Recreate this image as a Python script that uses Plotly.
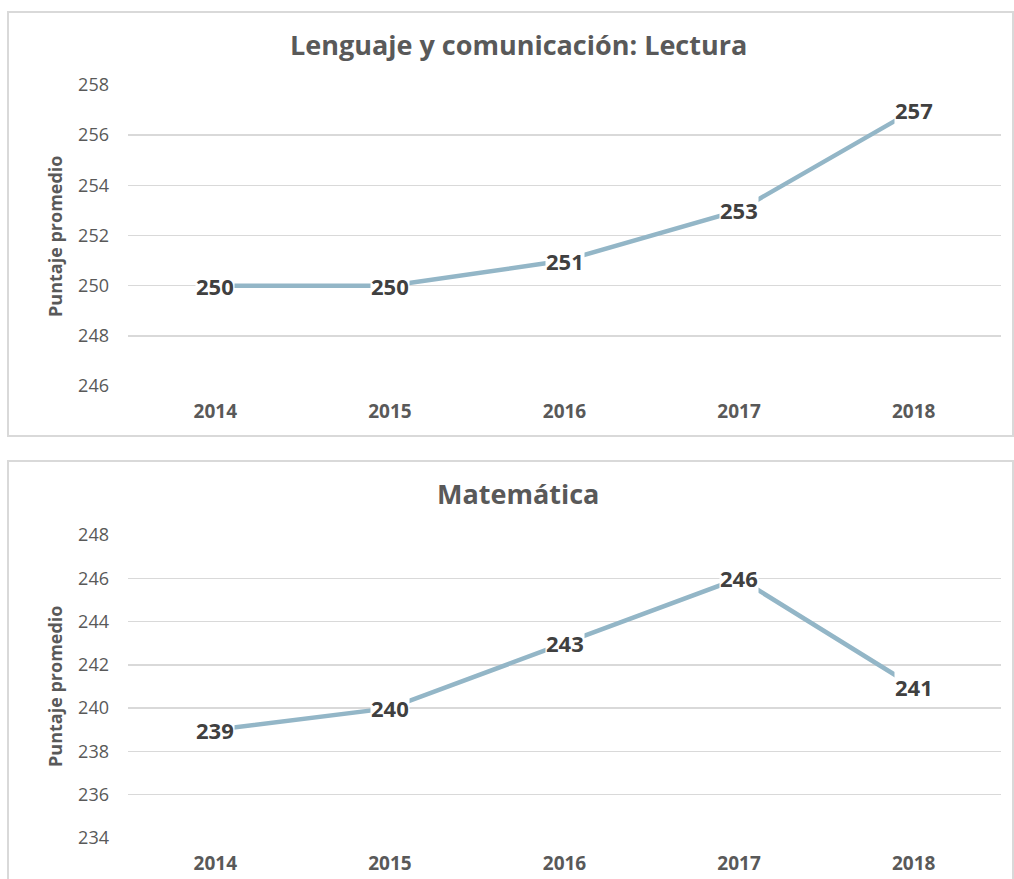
import plotly.graph_objects as go

years = ["2014", "2015", "2016", "2017", "2018"]
lectura = [250, 250, 251, 253, 257]
matematica = [239, 240, 243, 246, 241]
lectura_ticks = [246, 248, 250, 252, 254, 256, 258]
mate_ticks = [234, 236, 238, 240, 242, 244, 246, 248]

W, H = 1014, 879
def px(y):
    return 1 - y / H

LINE = "#93B6C7"
GRID = "#D9D9D9"
TXT = "#595959"
LBL = "#404040"
FONT = "Open Sans"

fig = go.Figure()
fig.add_trace(go.Scatter(x=years, y=lectura, mode="lines", line=dict(color=LINE, width=4.5),
                         xaxis="x", yaxis="y", hoverinfo="skip", showlegend=False))
fig.add_trace(go.Scatter(x=years, y=matematica, mode="lines", line=dict(color=LINE, width=4.5),
                         xaxis="x2", yaxis="y2", hoverinfo="skip", showlegend=False))

annotations = []
for xa, ya, vals in [("x", "y", lectura), ("x2", "y2", matematica)]:
    for i, v in enumerate(vals):
        annotations.append(dict(x=i, y=v, xref=xa, yref=ya, text=f"<b>{v}</b>", showarrow=False,
                                font=dict(family=FONT, size=22, color=LBL), bgcolor="white",
                                borderpad=0, xanchor="center", yanchor="middle"))

annotations += [
    dict(x=518 / W, y=px(45), xref="paper", yref="paper", text="<b>Lenguaje y comunicación: Lectura</b>",
         showarrow=False, font=dict(family=FONT, size=27, color=TXT), xanchor="center", yanchor="middle"),
    dict(x=518 / W, y=px(493), xref="paper", yref="paper", text="<b>Matemática</b>",
         showarrow=False, font=dict(family=FONT, size=27, color=TXT), xanchor="center", yanchor="middle"),
    dict(x=55 / W, y=px(236), xref="paper", yref="paper", text="<b>Puntaje promedio</b>", textangle=-90,
         showarrow=False, font=dict(family=FONT, size=18, color=TXT), xanchor="center", yanchor="middle"),
    dict(x=55 / W, y=px(686), xref="paper", yref="paper", text="<b>Puntaje promedio</b>", textangle=-90,
         showarrow=False, font=dict(family=FONT, size=18, color=TXT), xanchor="center", yanchor="middle"),
]

shapes = [
    dict(type="rect", xref="paper", yref="paper", x0=8 / W, x1=1013 / W, y0=px(436), y1=px(12),
         line=dict(color=GRID, width=2), fillcolor="rgba(0,0,0,0)", layer="below"),
    dict(type="rect", xref="paper", yref="paper", x0=8 / W, x1=1013 / W, y0=-0.05, y1=px(461),
         line=dict(color=GRID, width=2), fillcolor="rgba(0,0,0,0)", layer="below"),
]

xdom = [128 / W, 1001 / W]
xcommon = dict(type="category", range=[-0.5, 4.5], showgrid=False, zeroline=False, showline=False,
               ticks="", tickfont=dict(family=FONT, size=19, color=TXT, weight="bold"),
               ticklabelstandoff=12, fixedrange=True, automargin=False)
ycommon = dict(showgrid=True, gridcolor=GRID, gridwidth=1.5, zeroline=False, showline=False, ticks="",
               tickfont=dict(family=FONT, size=18, color=TXT), ticklabelstandoff=18, fixedrange=True,
               automargin=False)

fig.update_layout(
    width=W, height=H, margin=dict(l=0, r=0, t=0, b=0, autoexpand=False),
    paper_bgcolor="white", plot_bgcolor="white",
    xaxis=dict(domain=xdom, anchor="y", categoryarray=years, **xcommon),
    yaxis=dict(domain=[px(386), px(85)], range=[246, 258], tickvals=lectura_ticks, anchor="x", **ycommon),
    xaxis2=dict(domain=xdom, anchor="y2", categoryarray=years, **xcommon),
    yaxis2=dict(domain=[px(838), px(535)], range=[234, 248], tickvals=mate_ticks, anchor="x2", **ycommon),
    annotations=annotations, shapes=shapes,
)

fig.write_html("out.html", config={"displayModeBar": False, "staticPlot": True},
               post_script="document.body.style.margin='0';document.body.style.overflow='hidden';")
